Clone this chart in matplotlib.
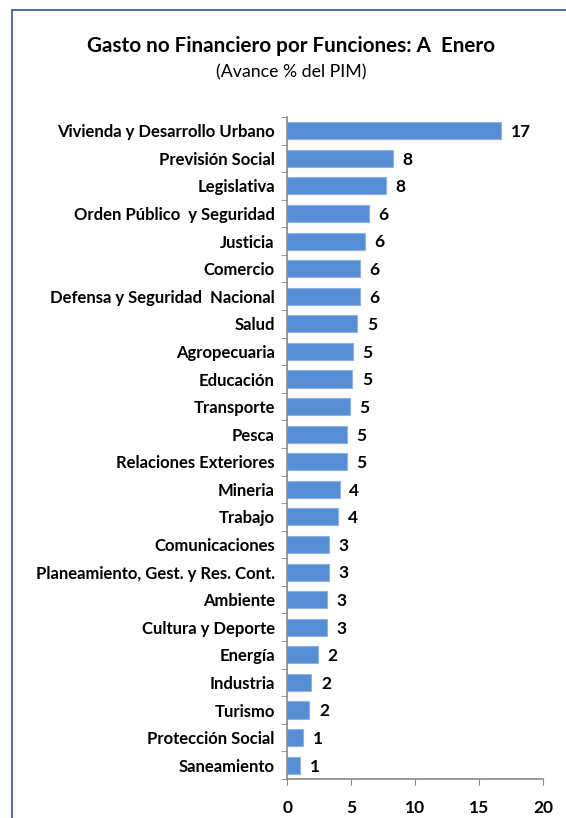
import matplotlib
matplotlib.use("Agg")
import matplotlib.pyplot as plt
from matplotlib.patches import Rectangle
import numpy as np

# Avance % del PIM
funciones = ["Vivienda y Desarrollo Urbano", "Previsión Social", "Legislativa",
             "Orden Público  y Seguridad", "Justicia", "Comercio",
             "Defensa y Seguridad  Nacional", "Salud", "Agropecuaria", "Educación",
             "Transporte", "Pesca", "Relaciones Exteriores", "Mineria", "Trabajo",
             "Comunicaciones", "Planeamiento, Gest. y Res. Cont.", "Ambiente",
             "Cultura y Deporte", "Energía", "Industria", "Turismo",
             "Protección Social", "Saneamiento"]
avance = [16.7, 8.26, 7.69, 6.38, 6.05, 5.65, 5.65, 5.47, 5.13, 5.08, 4.9, 4.66,
          4.66, 4.09, 4.0, 3.27, 3.27, 3.1, 3.1, 2.37, 1.87, 1.72, 1.23, 0.98]
etiquetas = ["17", "8", "8", "6", "6", "6", "6", "5", "5", "5", "5", "5", "5",
             "4", "4", "3", "3", "3", "3", "2", "2", "2", "1", "1"]

plt.rcParams['font.family'] = ['Lato', 'DejaVu Sans']

fig = plt.figure(figsize=(5.66, 8.18), dpi=100)
ax = fig.add_axes([0.5076, 0.0477, 0.4518, 0.8093])

y = np.arange(len(funciones))
ax.barh(y, avance, height=0.62, color='#558ED5', edgecolor='#8DB3E2', linewidth=0.8)

for yi, v, t in zip(y, avance, etiquetas):
    ax.annotate(t, (v, yi), xytext=(7, -1), textcoords='offset points',
                ha='left', va='center', fontsize=12.5, fontweight='bold')

ax.set_xlim(0, 20)
ax.set_ylim(len(funciones) - 0.5, -0.5)
ax.set_xticks([0, 5, 10, 15, 20])
ax.set_yticks(y)
ax.set_yticklabels(funciones, fontsize=12, fontweight='bold')
ax.set_yticks(np.arange(len(funciones) + 1) - 0.5, minor=True)
ax.tick_params(axis='y', which='major', length=0, pad=9)
ax.tick_params(axis='y', which='minor', length=4, color='#888888', direction='out')
ax.tick_params(axis='x', length=4, color='#888888', pad=11, labelsize=12.5)
for lbl in ax.get_xticklabels():
    lbl.set_fontweight('bold')

for s in ['top', 'right']:
    ax.spines[s].set_visible(False)
for s in ['left', 'bottom']:
    ax.spines[s].set_color('#888888')
    ax.spines[s].set_linewidth(1.2)

fig.text(0.514, 0.944, "Gasto no Financiero por Funciones: A  Enero",
         ha='center', va='center', fontsize=14.9, fontweight='bold')
fig.text(0.514, 0.911, "(Avance % del PIM)", ha='center', va='center', fontsize=12.8)

# marco del grafico
fig.patches.append(Rectangle((12 / 566, -0.1), 1.2, 1 - 10 / 818 + 0.1,
                             transform=fig.transFigure, fill=False,
                             edgecolor='#2F5496', linewidth=1.2))

fig.savefig("out.png", dpi=100)
